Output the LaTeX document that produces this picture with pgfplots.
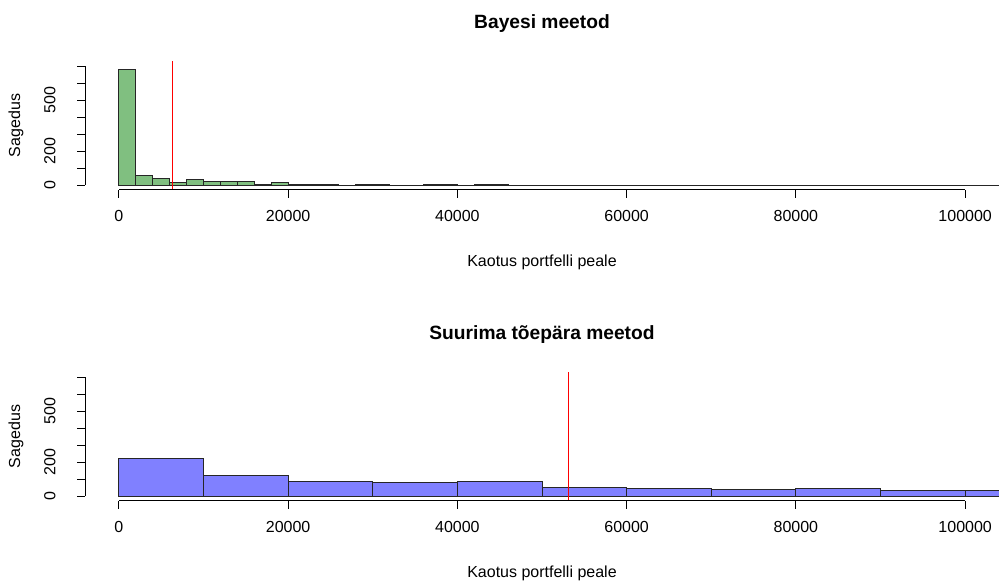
\documentclass[border=0pt]{standalone}
\usepackage{fontspec}
\setmainfont{Liberation Sans}
\usepackage{pgfplots}
\pgfplotsset{compat=1.18}
\definecolor{grn}{HTML}{80BF80}
\definecolor{blu}{HTML}{8080FF}
\definecolor{rline}{HTML}{FF0000}
\pgfplotsset{
  rhist/.style={
    anchor=south west, scale only axis, width=914pt, height=128.6pt,
    xmin=-4000, xmax=104000, ymin=-28, ymax=728,
    clip mode=individual,
    axis x line*=bottom, axis y line*=left, axis line style={draw=none},
    tick align=outside, major tick length=8pt,
    tick style={black, line width=0.8pt},
    xtick={0,20000,40000,60000,80000,100000},
    xticklabels={0,20000,40000,60000,80000,100000},
    ytick={0,100,200,300,400,500,600,700},
    yticklabels={0,,200,,,500,,},
    scaled x ticks=false, scaled y ticks=false,
    font=\fontsize{16}{19}\selectfont,
    tick label style={font=\fontsize{16}{19}\selectfont},
    xticklabel style={anchor=north, yshift=-9pt},
    yticklabel style={rotate=90, anchor=south},
    yticklabel shift=18pt,
    title style={font=\bfseries\fontsize{19.2}{23}\selectfont, at={(axis description cs:0.5,1.249)}, anchor=center},
    xlabel style={at={(axis description cs:0.5,-0.565)}, anchor=center},
    ylabel style={at={(axis description cs:-0.0755,0.5)}, anchor=center},
    xlabel={Kaotus portfelli peale},
    ylabel={Sagedus},
  }
}
\begin{document}
\begin{tikzpicture}[x=1pt,y=1pt]
\useasboundingbox (0,0) rectangle (999,583);
% ---------- top ----------
\begin{axis}[rhist, at={(85pt,393.2pt)}, title={Bayesi meetod}]
\addplot[ybar interval, fill=grn, draw=black!85, line width=1pt] coordinates {
(0,682) (2000,55) (4000,38) (6000,14) (8000,32) (10000,20) (12000,18) (14000,18)
(16000,4) (18000,14) (20000,2) (22000,3) (24000,2) (26000,0) (28000,2) (30000,1)
(32000,0) (34000,0) (36000,1) (38000,2) (40000,0) (42000,1) (44000,2) (46000,0)
(48000,0) (50000,0) (52000,0) (54000,0) (56000,0) (58000,0) (60000,0) (62000,0)
(64000,0) (66000,0) (68000,0) (70000,0) (72000,0) (74000,0) (76000,0) (78000,0)
(80000,0) (82000,0) (84000,0) (86000,0) (88000,0) (90000,0) (92000,0) (94000,0)
(96000,0) (98000,0) (100000,0) (102000,0) (104000,0) (106000,0) (108000,0)};
\addplot[draw=rline, line width=1.1pt] coordinates {(6300,-28) (6300,728)};
\draw[black, line width=0.8pt] (axis cs:0,-28) -- (axis cs:100000,-28);
\draw[black, line width=0.8pt] (axis cs:-4000,0) -- (axis cs:-4000,700);
\end{axis}
% ---------- bottom ----------
\begin{axis}[rhist, at={(85pt,82.2pt)}, title={Suurima tõepära meetod}]
\addplot[ybar interval, fill=blu, draw=black!85, line width=1pt] coordinates {
(0,218) (10000,120) (20000,88) (30000,82) (40000,84) (50000,53) (60000,43)
(70000,37) (80000,43) (90000,32) (100000,32) (110000,32)};
\addplot[draw=rline, line width=1.1pt] coordinates {(53100,-28) (53100,728)};
\draw[black, line width=0.8pt] (axis cs:0,-28) -- (axis cs:100000,-28);
\draw[black, line width=0.8pt] (axis cs:-4000,0) -- (axis cs:-4000,700);
\end{axis}
\end{tikzpicture}
\end{document}
